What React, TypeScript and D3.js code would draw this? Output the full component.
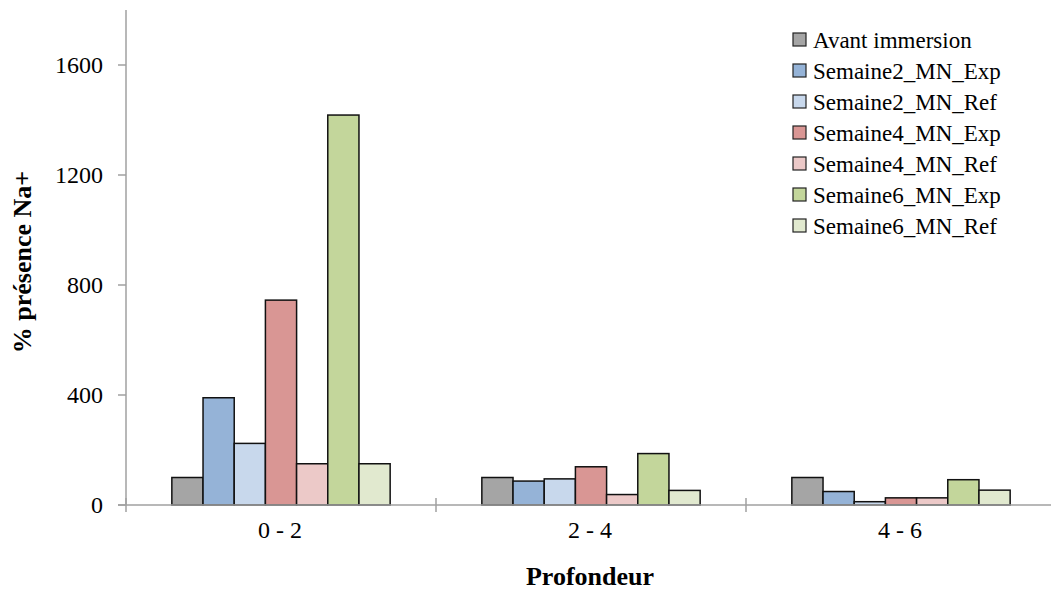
import React from "react";
import * as d3 from "d3";

const categories = ["0 - 2", "2 - 4", "4 - 6"];
const seriesNames = [
  "Avant immersion",
  "Semaine2_MN_Exp",
  "Semaine2_MN_Ref",
  "Semaine4_MN_Exp",
  "Semaine4_MN_Ref",
  "Semaine6_MN_Exp",
  "Semaine6_MN_Ref",
];
const avantImmersion = [100, 100, 100];
const semaine2Exp = [390, 87, 49];
const semaine2Ref = [224, 95, 12];
const semaine4Exp = [745, 139, 26];
const semaine4Ref = [150, 38, 26];
const semaine6Exp = [1418, 187, 92];
const semaine6Ref = [150, 53, 54];
const seriesValues = [avantImmersion, semaine2Exp, semaine2Ref, semaine4Exp, semaine4Ref, semaine6Exp, semaine6Ref];
const colors = ["#A5A5A5", "#95B3D7", "#C8D8EC", "#D99694", "#ECC9C8", "#C3D69B", "#E1E9CF"];
const yTicks = [0, 400, 800, 1200, 1600];

const W = 1051;
const H = 590;
const left = 126;
const right = 1056;
const top = 10;
const bottom = 505;
const FONT = "'Liberation Serif', 'Times New Roman', serif";

export default function App() {
  const x0 = d3.scaleBand().domain(categories).range([left, right]).paddingInner(0).paddingOuter(0);
  const x1 = d3
    .scaleBand()
    .domain(seriesNames)
    .range([0, x0.bandwidth()])
    .paddingInner(0)
    .paddingOuter(1.47);
  const y = d3.scaleLinear().domain([0, 1800]).range([bottom, top]);
  const axisColor = "#A0A0A0";

  const catBoundaries = categories.map((c) => x0(c)!).concat([right]);

  return (
    <svg width={W} height={H} style={{ position: "absolute", left: 0, top: 0, background: "#fff" }}>
      <rect x={0} y={0} width={W} height={H} fill="#fff" />
      {/* bars */}
      {categories.map((c, ci) => (
        <g key={c}>
          {seriesNames.map((s, si) => {
            const v = seriesValues[si][ci];
            const bx = x0(c)! + x1(s)!;
            return (
              <rect
                key={s}
                x={bx}
                y={y(v)}
                width={x1.bandwidth()}
                height={y(0) - y(v)}
                fill={colors[si]}
                stroke="#111"
                strokeWidth={1.5}
              />
            );
          })}
        </g>
      ))}
      {/* y axis */}
      <line x1={left} x2={left} y1={top} y2={bottom} stroke={axisColor} strokeWidth={1.5} />
      {yTicks.map((t) => (
        <g key={t}>
          <line x1={left - 8} x2={left} y1={y(t)} y2={y(t)} stroke={axisColor} strokeWidth={1.5} />
          <text
            x={103}
            y={y(t)}
            dy="0.35em"
            textAnchor="end"
            fontFamily={FONT}
            fontSize={24}
            fill="#000"
          >
            {t}
          </text>
        </g>
      ))}
      {/* x axis */}
      <line x1={left - 8} x2={W} y1={bottom} y2={bottom} stroke={axisColor} strokeWidth={1.5} />
      {catBoundaries.map((b, i) => (
        <line key={i} x1={b} x2={b} y1={bottom - 7} y2={bottom + 7} stroke={axisColor} strokeWidth={1.5} />
      ))}
      {categories.map((c) => (
        <text
          key={c}
          x={x0(c)! + x0.bandwidth() / 2 - 1}
          y={538}
          textAnchor="middle"
          fontFamily={FONT}
          fontSize={24}
          fill="#000"
        >
          {c}
        </text>
      ))}
      {/* axis titles */}
      <text x={590} y={585} textAnchor="middle" fontFamily={FONT} fontSize={26} fontWeight="bold" fill="#000">
        Profondeur
      </text>
      <text
        transform={`translate(31,262) rotate(-90)`}
        textAnchor="middle"
        fontFamily={FONT}
        fontSize={26}
        fontWeight="bold"
        fill="#000"
      >
        % présence Na+
      </text>
      {/* legend */}
      {seriesNames.map((s, i) => {
        const cy = 39.5 + i * 31;
        return (
          <g key={s}>
            <rect x={793} y={cy - 6.5} width={13} height={13} fill={colors[i]} stroke="#222" strokeWidth={1.2} />
            <text x={813} y={cy} dy="0.35em" fontFamily={FONT} fontSize={23} fill="#000">
              {s}
            </text>
          </g>
        );
      })}
    </svg>
  );
}
